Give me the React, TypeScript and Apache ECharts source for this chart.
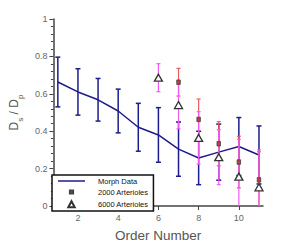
import React, { useEffect, useRef } from "react";
import * as echarts from "echarts";

const orders = [1, 2, 3, 4, 5, 6, 7, 8, 9, 10, 11];
const morphMean = [0.663, 0.61, 0.568, 0.508, 0.421, 0.38, 0.304, 0.257, 0.288, 0.318, 0.273];
const morphErr = [0.133, 0.124, 0.114, 0.117, 0.128, 0.146, 0.145, 0.143, 0.15, 0.155, 0.155];

const art2000X = [7, 8, 9, 10, 11];
const art2000Mean = [0.662, 0.463, 0.333, 0.235, 0.14];
const art2000Err = [0.074, 0.109, 0.118, 0.138, 0.15];

const art6000X = [6, 7, 8, 9, 10, 11];
const art6000Mean = [0.686, 0.54, 0.364, 0.261, 0.157, 0.1];
const art6000Err = [0.075, 0.127, 0.14, 0.147, 0.2, 0.2];

const xTicks = [2, 4, 6, 8, 10];

const FONT = "'Liberation Sans', Arial, sans-serif";

function errRender(color: string, cap: number, lw: number) {
  return (params: any, api: any) => {
    const x = api.value(0);
    const m = api.value(1);
    const e = api.value(2);
    const top = api.coord([x, m + e]);
    const bot = api.coord([x, m - e]);
    const st = { stroke: color, lineWidth: lw };
    return {
      type: "group",
      children: [
        { type: "line", shape: { x1: top[0], y1: top[1], x2: bot[0], y2: bot[1] }, style: st },
        { type: "line", shape: { x1: top[0] - cap, y1: top[1], x2: top[0] + cap, y2: top[1] }, style: st },
        { type: "line", shape: { x1: bot[0] - cap, y1: bot[1], x2: bot[0] + cap, y2: bot[1] }, style: st },
      ],
    };
  };
}

export default function App() {
  const ref = useRef<HTMLDivElement>(null);
  useEffect(() => {
    if (!ref.current) return;
    const chart = echarts.init(ref.current, undefined, { renderer: "svg" });
    const blue = "#1c1c8c";
    const red = "#f05a5a";
    const magenta = "#f25cf2";
    const axisColor = "#444";
    chart.setOption({
      animation: false,
      textStyle: { fontFamily: FONT },
      grid: { left: 46, right: 28, top: 19, bottom: 35 },
      legend: {
        orient: "vertical",
        left: 52,
        top: 175,
        data: [
          { name: "Morph Data", icon: "path://M0,0h27v1.5h-27z" },
          { name: "2000 Arterioles", icon: "path://M0,0M10,10M3,3h4v4h-4z" },
          { name: "6000 Arterioles", icon: "path://M0,0M10,10M5,1.5L9,9L1,9Z" },
        ],
        backgroundColor: "#fff",
        borderColor: "#111",
        borderWidth: 1.5,
        borderRadius: 0,
        padding: [2, 5, 2, 6],
        itemGap: 2,
        itemWidth: 27,
        itemHeight: 8,
        textStyle: { fontSize: 7.5, color: "#111", fontFamily: FONT, padding: [0, 0, 0, 8] },
      },
      xAxis: {
        type: "value",
        min: 0.78,
        max: 11.2,
        name: "Order Number",
        nameLocation: "middle",
        nameGap: 22,
        nameTextStyle: { fontSize: 13.5, color: "#555", fontFamily: FONT },
        axisLine: { show: true, lineStyle: { color: axisColor, width: 1.5 } },
        axisTick: { show: true, customValues: xTicks, length: 4, lineStyle: { color: axisColor } },
        axisLabel: { customValues: xTicks, fontSize: 9, color: "#666", margin: 7 },
        splitLine: { show: false },
      },
      yAxis: {
        type: "value",
        min: 0,
        max: 1,
        interval: 0.2,
        name: "{a|D}{s|s}{a| / D}{s|p}",
        nameLocation: "middle",
        nameGap: 25,
        nameTextStyle: {
          color: "#555",
          rich: {
            a: { fontSize: 12, lineHeight: 12, verticalAlign: "top", color: "#555", fontFamily: FONT },
            s: { fontSize: 8, lineHeight: 8, padding: [8, 0, 0, 0], verticalAlign: "top", color: "#555", fontFamily: FONT },
          },
        },
        axisLine: { show: true, lineStyle: { color: axisColor, width: 1.5 } },
        axisTick: { show: true, length: 4, lineStyle: { color: axisColor } },
        minorTick: { show: true, splitNumber: 5, length: 2.5, lineStyle: { color: axisColor } },
        axisLabel: { fontSize: 9, color: "#666", margin: 6 },
        splitLine: { show: false },
        minorSplitLine: { show: false },
      },
      series: [
        {
          name: "Morph Data err",
          type: "custom",
          clip: true,
          renderItem: errRender(blue, 2.5, 1.5),
          data: orders.map((x, i) => [x, morphMean[i], morphErr[i]]),
          encode: { x: 0, y: 1 },
          z: 2,
        },
        {
          name: "Morph Data",
          type: "line",
          symbol: "none",
          data: orders.map((x, i) => [x, morphMean[i]]),
          lineStyle: { color: blue, width: 1.5 },
          itemStyle: { color: blue },
          z: 3,
        },
        {
          name: "2000 Arterioles err",
          type: "custom",
          clip: true,
          renderItem: errRender(red, 2, 1.2),
          data: art2000X.map((x, i) => [x, art2000Mean[i], art2000Err[i]]),
          encode: { x: 0, y: 1 },
          z: 4,
        },
        {
          name: "6000 Arterioles err",
          type: "custom",
          clip: true,
          renderItem: errRender(magenta, 2, 1.2),
          data: art6000X.map((x, i) => [x, art6000Mean[i], art6000Err[i]]),
          encode: { x: 0, y: 1 },
          z: 5,
        },
        {
          name: "2000 Arterioles",
          type: "scatter",
          symbol: "rect",
          symbolSize: [3.5, 4.5],
          data: art2000X.map((x, i) => [x, art2000Mean[i]]),
          itemStyle: { color: "#c43c3c", borderColor: "#444", borderWidth: 0.8, opacity: 1 },
          z: 6,
        },
        {
          name: "6000 Arterioles",
          type: "scatter",
          symbol: "triangle",
          symbolSize: [8, 7],
          data: art6000X.map((x, i) => [x, art6000Mean[i]]),
          itemStyle: { color: "#fff", borderColor: "#333", borderWidth: 1.3, opacity: 1 },
          z: 7,
        },
      ],
    });
    return () => chart.dispose();
  }, []);
  return <div ref={ref} style={{ width: 291, height: 247, position: "absolute", left: 0, top: 0 }} />;
}
